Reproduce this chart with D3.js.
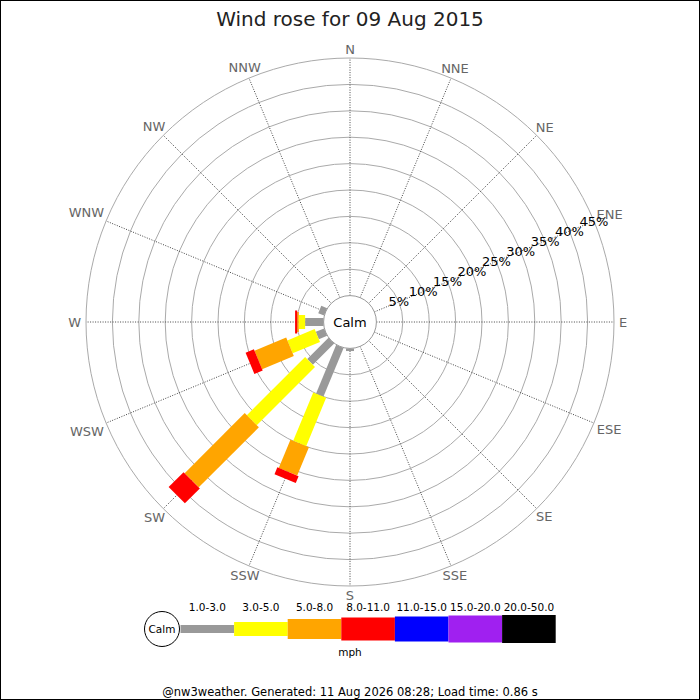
<!DOCTYPE html>
<html lang="en">
<head>
    <meta charset="UTF-8">
    <title>wind rose</title>
    <script src="https://d3js.org/d3.v7.min.js"></script>
    <style>
        body{
            margin: 0;
            background: #fff;
        }
        svg text{
            font-family: "DejaVu Sans", sans-serif;
        }
    </style>
</head>
<body>

<svg width="700" height="700" id="rose"></svg>

<script>
    // data (percent of the day, per direction and speed band)
    let directions = ["N","NNE","NE","ENE","E","ESE","SE","SSE","S","SSW","SW","WSW","W","WNW","NW","NNW"]
    let speed_bins = ["1.0-3.0","3.0-5.0","5.0-8.0","8.0-11.0","11.0-15.0","15.0-20.0","20.0-50.0"]
    //              N  NNE NE ENE E ESE SE SSE  S    SSW   SW    WSW  W    WNW  NW NNW
    let pct_1_3   = [0, 0, 0, 0, 0, 0, 0, 0, 0.5, 10.0, 5.7, 1.7, 3.5, 1.2, 0, 0]
    let pct_3_5   = [0, 0, 0, 0, 0, 0, 0, 0, 0,   9.9, 15.6, 5.6, 1.2, 0,   0, 0]
    let pct_5_8   = [0, 0, 0, 0, 0, 0, 0, 0, 0,   5.8, 16.1, 6.5, 0.3, 0,   0, 0]
    let pct_8_11  = [0, 0, 0, 0, 0, 0, 0, 0, 0,   1.4,  4.0, 1.7, 0.4, 0,   0, 0]
    let pct_11_15 = [0, 0, 0, 0, 0, 0, 0, 0, 0,   0,    0,   0,   0,   0,   0, 0]
    let pct_15_20 = [0, 0, 0, 0, 0, 0, 0, 0, 0,   0,    0,   0,   0,   0,   0, 0]
    let pct_20_50 = [0, 0, 0, 0, 0, 0, 0, 0, 0,   0,    0,   0,   0,   0,   0, 0]
    let ring_ticks = [5, 10, 15, 20, 25, 30, 35, 40, 45]

    let title = "Wind rose for 09 Aug 2015"
    let footer = "@nw3weather. Generated: 11 Aug 2026 08:28; Load time: 0.86 s"

    // styles
    let bin_colors = ["#999999", "#ffff00", "#ffa500", "#ff0000", "#0000ff", "#a020f0", "#000000"]
    let bin_widths = [8, 14, 20, 23, 25, 27, 28]

    let svg = d3.select("#rose")
    let cx = 350, cy = 322
    let calmR = 26.4, outerR = 264

    // one row per direction, stacked by speed band
    let series = [pct_1_3, pct_3_5, pct_5_8, pct_8_11, pct_11_15, pct_15_20, pct_20_50]
    let rows = directions.map(function (d, i){
        let row = {dir: d}
        speed_bins.forEach(function (b, j){ row[b] = series[j][i] })
        return row
    })
    let stacked = d3.stack().keys(speed_bins)(rows)

    let r = d3.scaleLinear().domain([0, 45]).range([calmR, outerR])
    let angle = d3.scalePoint().domain(directions).range([0, 337.5])
    let color = d3.scaleOrdinal().domain(speed_bins).range(bin_colors)
    let width = d3.scaleOrdinal().domain(speed_bins).range(bin_widths)

    function px(a, rad){ return cx + rad * Math.sin(a * Math.PI / 180) }
    function py(a, rad){ return cy - rad * Math.cos(a * Math.PI / 180) }

    // frame
    svg.append("rect")
        .attr("x", 0.5).attr("y", 0.5)
        .attr("width", 699).attr("height", 699)
        .attr("fill", "none").attr("stroke", "#000")

    // rings
    svg.append("g").selectAll("circle")
        .data(ring_ticks)
        .join("circle")
        .attr("cx", cx).attr("cy", cy)
        .attr("r", d => r(d))
        .attr("fill", "none")
        .attr("stroke", "#aaa")

    // spokes
    svg.append("g").selectAll("line")
        .data(directions)
        .join("line")
        .attr("x1", d => px(angle(d), calmR)).attr("y1", d => py(angle(d), calmR))
        .attr("x2", d => px(angle(d), outerR)).attr("y2", d => py(angle(d), outerR))
        .attr("stroke", "#444")
        .attr("stroke-dasharray", "1,1.5")

    // direction labels
    svg.append("g").selectAll("text")
        .data(directions)
        .join("text")
        .text(d => d)
        .attr("font-size", 13)
        .attr("fill", "#666")
        .attr("text-anchor", "middle")
        .attr("dy", "0.36em")
        .each(function (d){
            let a = angle(d) * Math.PI / 180
            let w = this.getComputedTextLength()
            let rr = 269 + Math.abs(Math.sin(a)) * w / 2 + (Math.abs(Math.cos(a)) > 0.99 ? 4 : 0)
            d3.select(this).attr("x", px(angle(d), rr)).attr("y", py(angle(d), rr))
        })

    // bars
    svg.append("g").selectAll("g")
        .data(stacked)
        .join("g")
        .attr("stroke", d => color(d.key))
        .attr("stroke-width", d => width(d.key))
        .selectAll("line")
        .data(d => d.filter(s => s[1] > s[0]))
        .join("line")
        .attr("x1", d => px(angle(d.data.dir), r(d[0])))
        .attr("y1", d => py(angle(d.data.dir), r(d[0])))
        .attr("x2", d => px(angle(d.data.dir), r(d[1])))
        .attr("y2", d => py(angle(d.data.dir), r(d[1])))

    // calm circle
    svg.append("circle")
        .attr("cx", cx).attr("cy", cy).attr("r", calmR)
        .attr("fill", "#fff").attr("stroke", "#999")
    svg.append("text")
        .attr("x", cx).attr("y", cy).attr("dy", "0.36em")
        .attr("text-anchor", "middle")
        .attr("font-size", 13)
        .text("Calm")

    // ring labels along ENE
    svg.append("g").selectAll("text")
        .data(ring_ticks)
        .join("text")
        .attr("x", d => px(angle("ENE"), r(d)))
        .attr("y", d => py(angle("ENE"), r(d)))
        .attr("dy", "0.36em")
        .attr("text-anchor", "middle")
        .attr("font-size", 13)
        .text(d => d + "%")

    // title
    svg.append("text")
        .attr("x", cx).attr("y", 26)
        .attr("text-anchor", "middle")
        .attr("font-size", 20)
        .attr("fill", "#222")
        .text(title)

    // legend
    let lx = d3.scaleBand().domain(speed_bins).range([180.5, 555.7])
    let legY = 629
    let legend = svg.append("g")
    legend.selectAll("rect")
        .data(speed_bins)
        .join("rect")
        .attr("x", d => lx(d))
        .attr("width", lx.bandwidth())
        .attr("y", d => legY - width(d) / 2)
        .attr("height", d => width(d))
        .attr("fill", d => color(d))
    legend.selectAll("text")
        .data(speed_bins)
        .join("text")
        .attr("x", d => lx(d) + lx.bandwidth() / 2)
        .attr("y", 611)
        .attr("text-anchor", "middle")
        .attr("font-size", 10.5)
        .text(d => d)
    legend.append("circle")
        .attr("cx", 162).attr("cy", legY).attr("r", 17.5)
        .attr("fill", "#fff").attr("stroke", "#000")
    legend.append("text")
        .attr("x", 162).attr("y", legY).attr("dy", "0.36em")
        .attr("text-anchor", "middle")
        .attr("font-size", 10.5)
        .text("Calm")
    legend.append("text")
        .attr("x", cx).attr("y", 656)
        .attr("text-anchor", "middle")
        .attr("font-size", 10.5)
        .text("mph")

    // footer
    svg.append("text")
        .attr("x", cx).attr("y", 696)
        .attr("text-anchor", "middle")
        .attr("font-size", 11.5)
        .text(footer)
</script>

</body>
</html>
